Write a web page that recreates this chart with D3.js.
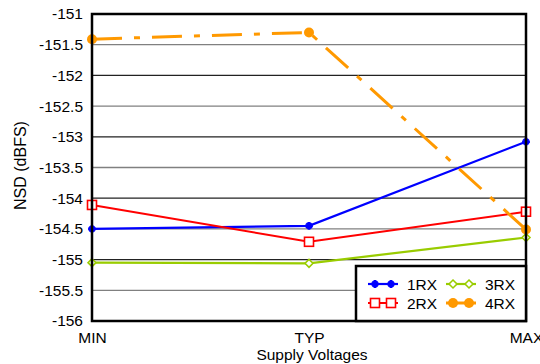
<!DOCTYPE html>
<html><head><meta charset="utf-8">
<script src="https://cdn.jsdelivr.net/npm/d3@7"></script>
<style>body{margin:0;background:#fff}svg{display:block}text{font-family:"Liberation Sans",Arial,sans-serif;fill:#000}</style>
</head><body><svg id="c" width="540" height="364"></svg>
<script>
const categories = ["MIN","TYP","MAX"];
const rx1 = [-154.5, -154.45, -153.08];
const rx2 = [-154.11, -154.71, -154.22];
const rx3 = [-155.05, -155.06, -154.64];
const rx4 = [-151.41, -151.30, -154.51];
const yTicks = [-156,-155.5,-155,-154.5,-154,-153.5,-153,-152.5,-152,-151.5,-151];
const seriesNames = ["1RX","2RX","3RX","4RX"];

const FS = "15.5px";
const series = [
  {name:"1RX", values:rx1, color:"#0000ff", marker:"star", dash:null, w:2.2},
  {name:"2RX", values:rx2, color:"#ff0000", marker:"square", dash:null, w:2},
  {name:"3RX", values:rx3, color:"#99cc00", marker:"diamond", dash:null, w:2.2},
  {name:"4RX", values:rx4, color:"#ff9900", marker:"circle", dash:"30,12,6,12", w:3}
];

const svg = d3.select("#c");
const L=92, R=526, T=14, B=321;
const x = d3.scalePoint().domain(categories).range([L,R]);
const y = d3.scaleLinear().domain([-156,-151]).range([B,T]);

// gridlines
svg.append("g").selectAll("line").data(yTicks.slice(1,-1)).join("line")
  .attr("x1",L).attr("x2",R).attr("y1",d=>y(d)).attr("y2",d=>y(d))
  .attr("stroke",d=>Number.isInteger(d)?"#222":"#808080").attr("stroke-width",1.3);

// y axis labels
const ya = svg.append("g").attr("transform",`translate(${L},0)`)
  .call(d3.axisLeft(y).tickValues(yTicks).tickSize(0).tickPadding(9).tickFormat(d=>String(d)));
ya.select(".domain").remove();
ya.selectAll("text").style("font-size",FS).style("font-family","'Liberation Sans',Arial,sans-serif");

// x axis labels
const xa = svg.append("g").attr("transform",`translate(0,${B})`)
  .call(d3.axisBottom(x).tickSize(0).tickPadding(11));
xa.select(".domain").remove();
xa.selectAll("text").style("font-size",FS).style("font-family","'Liberation Sans',Arial,sans-serif");

svg.append("text").attr("x",(L+R)/2 + 3).attr("y",360).attr("text-anchor","middle")
  .style("font-size",FS).text("Supply Voltages");
svg.append("text").attr("transform",`translate(26,${(T+B)/2 - 2}) rotate(-90)`).attr("text-anchor","middle")
  .style("font-size","16px").text("NSD (dBFS)");

function drawMarker(g, type, cx, cy, color){
  if(type==="star"){
    g.append("path").attr("d",d3.symbol(d3.symbolCross,34)()).attr("transform",`translate(${cx},${cy})`).attr("fill",color);
    g.append("path").attr("d",d3.symbol(d3.symbolCross,30)()).attr("transform",`translate(${cx},${cy}) rotate(45)`).attr("fill",color);
  } else if(type==="square"){
    g.append("rect").attr("x",cx-4.5).attr("y",cy-4.5).attr("width",9).attr("height",9)
      .attr("fill","#fff").attr("stroke",color).attr("stroke-width",1.6);
  } else if(type==="diamond"){
    g.append("path").attr("d",d3.symbol(d3.symbolDiamond2,40)()).attr("transform",`translate(${cx},${cy})`)
      .attr("fill","#fff").attr("stroke",color).attr("stroke-width",1.6);
  } else {
    g.append("circle").attr("cx",cx).attr("cy",cy).attr("r",5).attr("fill",color);
  }
}

const line = d3.line().x((d,i)=>x(categories[i])).y(d=>y(d));
const sg = svg.append("g");
series.forEach(s=>{
  sg.append("path").attr("d",line(s.values)).attr("fill","none").attr("stroke",s.color)
    .attr("stroke-width",s.w).attr("stroke-dasharray",s.dash);
});
series.forEach(s=>{
  const g = sg.append("g");
  s.values.forEach((v,i)=>drawMarker(g,s.marker,x(categories[i]),y(v),s.color));
});

// frame
svg.append("rect").attr("x",L).attr("y",T).attr("width",R-L).attr("height",B-T)
  .attr("fill","none").attr("stroke","#000").attr("stroke-width",2.5);

// legend
const lg = svg.append("g");
lg.append("rect").attr("x",356).attr("y",266).attr("width",R-356).attr("height",B-266)
  .attr("fill","#fff").attr("stroke","#000").attr("stroke-width",2.5);
const pos = [[368,284],[368,303],[446,284],[446,303]];
series.forEach((s,i)=>{
  const [lx,ly]=pos[i];
  lg.append("line").attr("x1",lx).attr("x2",lx+30).attr("y1",ly).attr("y2",ly)
    .attr("stroke",s.color).attr("stroke-width",s.w);
  drawMarker(lg,s.marker,lx+7,ly,s.color);
  drawMarker(lg,s.marker,lx+23,ly,s.color);
  lg.append("text").attr("x",lx+39).attr("y",ly+5.5).style("font-size",FS).text(seriesNames[i]);
});
</script></body></html>
